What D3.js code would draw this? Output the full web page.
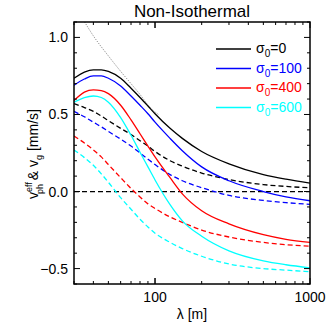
<!DOCTYPE html>
<html>
<head>
<meta charset="utf-8">
<script src="https://cdn.jsdelivr.net/npm/d3@7"></script>
<style>
  body { margin: 0; background: #fff; }
  text { font-family: "Liberation Sans", Arial, sans-serif; }
</style>
</head>
<body>
<div id="chart"></div>
<script>
// wavelength grid [m]
var lambda = [30, 35, 40, 45, 50, 60, 70, 80, 90, 100, 125, 150, 200, 300, 500, 700, 1000];

// effective phase speed (solid) and group speed (dashed), mm/s
var vph0   = [0.735, 0.775, 0.79, 0.79, 0.78, 0.735, 0.67, 0.61, 0.555, 0.505, 0.41, 0.345, 0.26, 0.18, 0.11, 0.08, 0.055];
var vph100 = [0.69, 0.73, 0.75, 0.75, 0.735, 0.685, 0.62, 0.56, 0.505, 0.45, 0.345, 0.265, 0.16, 0.07, 0.0, -0.035, -0.06];
var vph400 = [0.59, 0.645, 0.66, 0.655, 0.635, 0.56, 0.465, 0.375, 0.295, 0.225, 0.09, -0.015, -0.125, -0.21, -0.28, -0.31, -0.33];
var vph600 = [0.58, 0.61, 0.62, 0.61, 0.58, 0.48, 0.365, 0.255, 0.16, 0.075, -0.085, -0.19, -0.29, -0.385, -0.45, -0.475, -0.495];

var vg0   = [0.57, 0.545, 0.52, 0.49, 0.46, 0.41, 0.37, 0.33, 0.295, 0.26, 0.20, 0.165, 0.12, 0.078, 0.045, 0.033, 0.024];
var vg100 = [0.52, 0.485, 0.45, 0.42, 0.39, 0.34, 0.295, 0.25, 0.21, 0.175, 0.11, 0.07, 0.025, -0.025, -0.058, -0.072, -0.083];
var vg400 = [0.36, 0.315, 0.27, 0.225, 0.175, 0.09, 0.02, -0.035, -0.08, -0.11, -0.165, -0.20, -0.25, -0.295, -0.33, -0.345, -0.355];
var vg600 = [0.27, 0.22, 0.17, 0.115, 0.06, -0.04, -0.115, -0.18, -0.23, -0.27, -0.33, -0.37, -0.42, -0.47, -0.50, -0.51, -0.52];

// dotted reference line
var refLambda = [32, 40, 50, 60, 70, 80, 93, 105];
var refV      = [1.17, 1.01, 0.88, 0.78, 0.70, 0.63, 0.545, 0.50];

var sigmaLabels = ['0', '100', '400', '600'];
var colors = ['#000000', '#0000ff', '#ff0000', '#00ffff'];
var phSeries = [vph0, vph100, vph400, vph600];
var gSeries = [vg0, vg100, vg400, vg600];

var yTicks = [-0.5, 0.0, 0.5, 1.0];
var xTicks = [100, 1000];

var W = 332, H = 332;
var pLeft = 74, pRight = 310, pTop = 22, pBottom = 284;

var svg = d3.select('#chart').append('svg')
    .attr('width', W)
    .attr('height', H);

var x = d3.scaleLog().domain([30, 1000]).range([pLeft, pRight]);
var y = d3.scaleLinear().domain([-0.6, 1.1]).range([pBottom, pTop]);

svg.append('defs').append('clipPath').attr('id', 'clip')
  .append('rect')
    .attr('x', pLeft).attr('y', pTop)
    .attr('width', pRight - pLeft).attr('height', pBottom - pTop);

var plot = svg.append('g').attr('clip-path', 'url(#clip)');

var line = d3.line()
    .x(function(d) { return x(d[0]); })
    .y(function(d) { return y(d[1]); })
    .curve(d3.curveMonotoneX);

// zero line
plot.append('line')
    .attr('x1', pLeft).attr('x2', pRight)
    .attr('y1', y(0)).attr('y2', y(0))
    .attr('stroke', '#000')
    .attr('stroke-width', 1.2)
    .attr('stroke-dasharray', '5,3');

// dotted reference
plot.append('path')
    .datum(d3.zip(refLambda, refV))
    .attr('d', line)
    .attr('fill', 'none')
    .attr('stroke', '#555')
    .attr('stroke-width', 0.8)
    .attr('stroke-dasharray', '1,1.5');

gSeries.forEach(function(s, i) {
  plot.append('path')
      .datum(d3.zip(lambda, s))
      .attr('d', line)
      .attr('fill', 'none')
      .attr('stroke', colors[i])
      .attr('stroke-width', 1.3)
      .attr('stroke-dasharray', '5,3');
});

phSeries.forEach(function(s, i) {
  plot.append('path')
      .datum(d3.zip(lambda, s))
      .attr('d', line)
      .attr('fill', 'none')
      .attr('stroke', colors[i])
      .attr('stroke-width', 1.3);
});

// frame
svg.append('rect')
    .attr('x', pLeft).attr('y', pTop)
    .attr('width', pRight - pLeft).attr('height', pBottom - pTop)
    .attr('fill', 'none')
    .attr('stroke', '#000')
    .attr('stroke-width', 1.5);

// ticks (inward, on all four sides)
var ticks = svg.append('g').attr('stroke', '#000').attr('stroke-width', 1);

var yMinor = d3.range(-6, 12).map(function(k) { return k / 10; });
yMinor.forEach(function(v) {
  var major = yTicks.some(function(t) { return Math.abs(t - v) < 1e-9; });
  var len = major ? 6 : 3;
  ticks.append('line').attr('x1', pLeft).attr('x2', pLeft + len).attr('y1', y(v)).attr('y2', y(v));
  ticks.append('line').attr('x1', pRight).attr('x2', pRight - len).attr('y1', y(v)).attr('y2', y(v));
});

var xMinor = [];
[10, 100].forEach(function(dec) {
  for (var m = 1; m <= 10; m++) {
    var v = dec * m;
    if (v >= 30 && v <= 1000) xMinor.push(v);
  }
});
xMinor.forEach(function(v) {
  var major = xTicks.indexOf(v) >= 0;
  var len = major ? 6 : 3;
  ticks.append('line').attr('x1', x(v)).attr('x2', x(v)).attr('y1', pBottom).attr('y2', pBottom - len);
  ticks.append('line').attr('x1', x(v)).attr('x2', x(v)).attr('y1', pTop).attr('y2', pTop + len);
});

// tick labels
svg.append('g').selectAll('text')
  .data(yTicks)
  .enter().append('text')
    .attr('x', pLeft - 6)
    .attr('y', function(d) { return y(d) + 5; })
    .attr('text-anchor', 'end')
    .attr('font-size', 14)
    .text(function(d) { return d3.format('.1f')(d); });

svg.append('g').selectAll('text')
  .data(xTicks)
  .enter().append('text')
    .attr('x', function(d) { return x(d); })
    .attr('y', 302)
    .attr('text-anchor', 'middle')
    .attr('font-size', 14)
    .text(function(d) { return d; });

// titles
svg.append('text')
    .attr('x', 192).attr('y', 17)
    .attr('text-anchor', 'middle')
    .attr('font-size', 17)
    .text('Non-Isothermal');

svg.append('text')
    .attr('x', 192).attr('y', 319)
    .attr('text-anchor', 'middle')
    .attr('font-size', 14)
    .text('λ [m]');

var yl = svg.append('text')
    .attr('transform', 'translate(38,154) rotate(-90)')
    .attr('text-anchor', 'middle')
    .attr('font-size', 14);
yl.append('tspan').text('v');
yl.append('tspan').attr('font-size', 9).attr('dy', -6).text('eff');
yl.append('tspan').attr('font-size', 9).attr('dx', -12).attr('dy', 11).text('ph');
yl.append('tspan').attr('dy', -5).text(' & v');
yl.append('tspan').attr('font-size', 9).attr('dy', 4).text('g');
yl.append('tspan').attr('dy', -4).text(' [mm/s]');

// legend
var legend = svg.append('g');
sigmaLabels.forEach(function(lab, i) {
  var ly = 49 + i * 19.5;
  legend.append('line')
      .attr('x1', 216).attr('x2', 251)
      .attr('y1', ly).attr('y2', ly)
      .attr('stroke', colors[i])
      .attr('stroke-width', 1.3);
  var t = legend.append('text')
      .attr('x', 256).attr('y', ly + 4)
      .attr('font-size', 14)
      .attr('fill', colors[i]);
  t.append('tspan').text('σ');
  t.append('tspan').attr('font-size', 10).attr('dy', 4).text('0');
  t.append('tspan').attr('dy', -4).text('=' + lab);
});
</script>
</body>
</html>
